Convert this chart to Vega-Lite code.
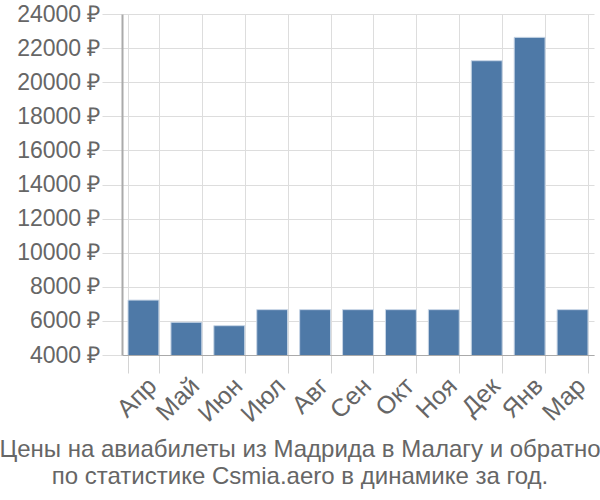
{
  "$schema": "https://vega.github.io/schema/vega-lite/v6.json",
  "autosize": {"type": "none"},
  "width": 472,
  "height": 341,
  "padding": {"left": 122, "top": 14, "right": 6, "bottom": 145},
  "background": "white",
  "title": {
    "text": ["Цены на авиабилеты из Мадрида в Малагу и обратно", "по статистике Csmia.aero в динамике за год."],
    "orient": "bottom",
    "anchor": "middle",
    "font": "Liberation Sans",
    "fontSize": 24,
    "fontWeight": "normal",
    "color": "#666666",
    "lineHeight": 27,
    "offset": 11,
    "dx": -58
  },
  "data": {
    "values": [
      {"month": "Апр", "price": 7220},
      {"month": "Май", "price": 5920},
      {"month": "Июн", "price": 5720},
      {"month": "Июл", "price": 6660},
      {"month": "Авг", "price": 6660},
      {"month": "Сен", "price": 6660},
      {"month": "Окт", "price": 6660},
      {"month": "Ноя", "price": 6660},
      {"month": "Дек", "price": 21260},
      {"month": "Янв", "price": 22630},
      {"month": "Мар", "price": 6660}
    ]
  },
  "mark": {"type": "bar", "color": "#4e79a7", "stroke": "#c8d6e6", "strokeWidth": 1, "clip": true},
  "encoding": {
    "x": {
      "field": "month",
      "type": "nominal",
      "sort": null,
      "scale": {"paddingInner": 0.28, "paddingOuter": 0.14},
      "axis": {
        "title": null,
        "labelAngle": -45,
        "labelFont": "Liberation Sans",
        "labelFontSize": 25,
        "labelColor": "#666666",
        "tickBand": "extent",
        "tickSize": 18,
        "tickColor": "#d4d4d4",
        "gridColor": "#dddddd",
        "grid": true,
        "domainColor": "#aaaaaa",
        "labelPadding": 0
      }
    },
    "y": {
      "field": "price",
      "type": "quantitative",
      "scale": {"domain": [4000, 24000], "nice": false, "zero": false},
      "axis": {
        "title": null,
        "values": [4000, 6000, 8000, 10000, 12000, 14000, 16000, 18000, 20000, 22000, 24000],
        "labelExpr": "datum.value + ' ₽'",
        "labelFont": "Liberation Sans",
        "labelFontSize": 23,
        "labelColor": "#666666",
        "tickSize": 20,
        "tickColor": "#dddddd",
        "gridColor": "#dddddd",
        "domainColor": "#aaaaaa",
        "domainWidth": 2,
        "labelPadding": 2
      }
    }
  },
  "config": {"view": {"stroke": null}}
}
